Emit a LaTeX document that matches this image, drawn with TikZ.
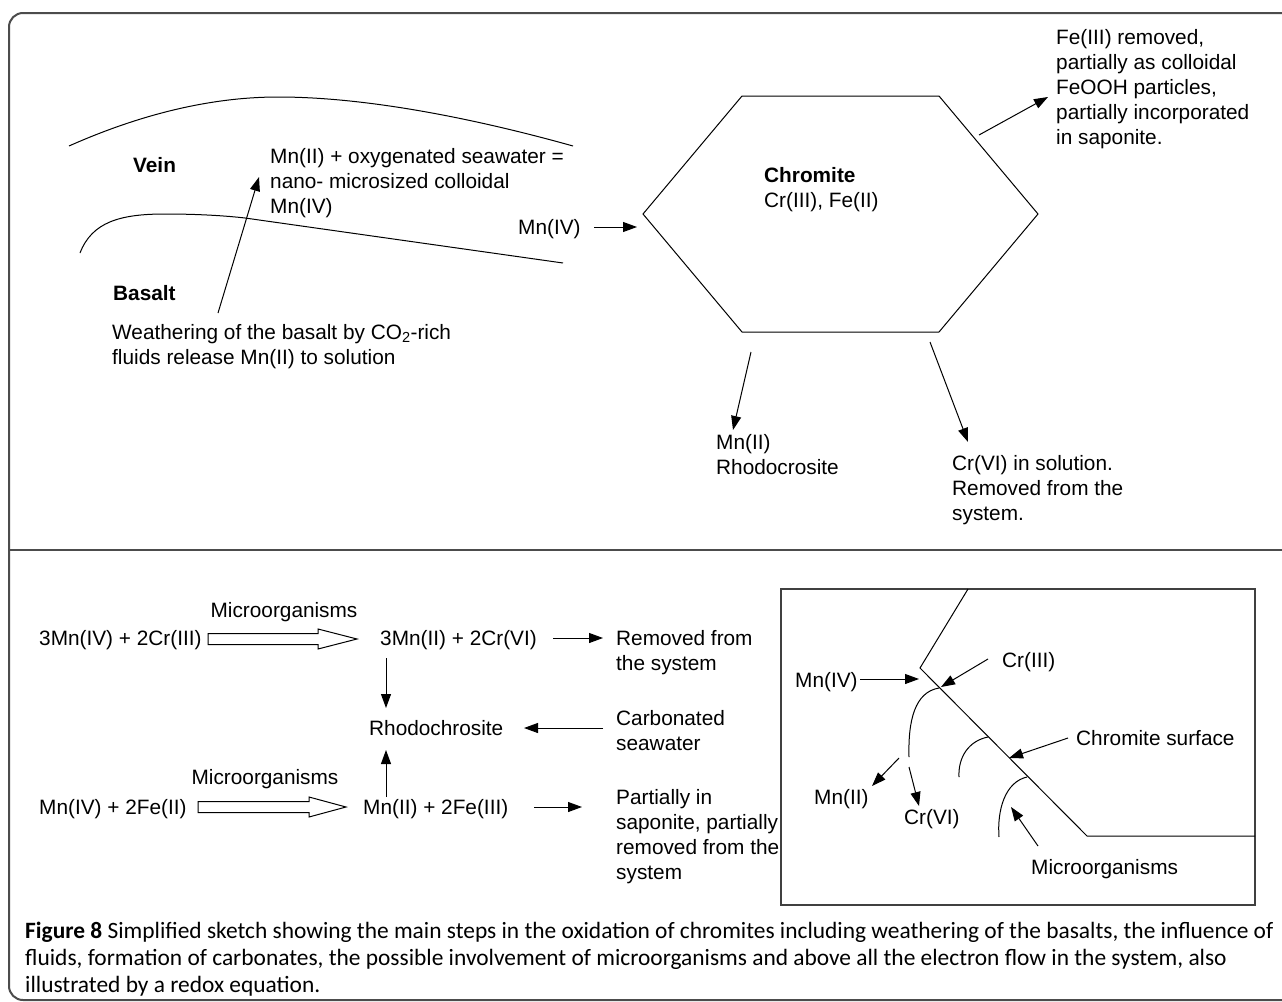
\documentclass[tikz,border=0pt]{standalone}
\usepackage{fontspec}
\setmainfont{Liberation Sans}
\newfontfamily\capfont{Carlito}
\usetikzlibrary{arrows.meta}
\begin{document}
\begin{tikzpicture}[x=1pt,y=-1pt,
  txt/.style={inner sep=0pt, font=\fontsize{20.8}{25}\selectfont, text=black},
  btxt/.style={inner sep=0pt, font=\fontsize{20.8}{25}\selectfont\bfseries, text=black},
  ml/.style={txt, align=left, anchor=north west},
  arr/.style={line width=1pt, -{Triangle[length=14pt,width=10pt]}},
  thinline/.style={line width=1pt},
  framestyle/.style={draw=black!70, line width=2pt},
  hollow/.style={draw=black, fill=white, line width=1pt, line join=miter}
]
\useasboundingbox (0,0) rectangle (1282,1001);
\fill[white] (0,0) rectangle (1282,1001);

% frame and separator
\draw[framestyle, rounded corners=14pt] (1300,13) -- (9,13) -- (9,1000) -- (1300,1000);
\draw[framestyle] (9,549.5) -- (1300,549.5);

% ---------------- top part ----------------
\draw[thinline] (69,146) .. controls (150,110) and (220,97) .. (278,97)
                .. controls (370,97) and (480,120) .. (573,146);
\draw[thinline] (80,253) .. controls (92,222) and (120,214) .. (165,214)
                .. controls (200,214) and (228,216) .. (245,218) -- (563,263);

\node[btxt, anchor=base west] (vein) at (133,172) {Vein};
\node[btxt, anchor=base west] (basalt) at (113,300) {Basalt};
\node[ml] (weath) at (112,324) {Weathering of the basalt by CO\textsubscript{2}-rich\\fluids release Mn(II) to solution};
\node[ml] (mnox) at (270,148) {Mn(II) + oxygenated seawater =\\nano- microsized colloidal\\Mn(IV)};
\node[txt, anchor=base west] (mniv) at (518,234) {Mn(IV)};

\coordinate (hTL) at (742,96);
\coordinate (hTR) at (939,96);
\coordinate (hR) at (1038,214);
\coordinate (hBR) at (939,332);
\coordinate (hBL) at (742,332);
\coordinate (hL) at (643,214);
\draw[thinline, line join=miter] (hTL) -- (hTR) -- (hR) -- (hBR) -- (hBL) -- (hL) -- cycle;

\node[ml] (chrom) at (764,167) {\bfseries Chromite\\Cr(III), Fe(II)};
\node[ml] (fe) at (1056,29) {Fe(III) removed,\\partially as colloidal\\FeOOH particles,\\partially incorporated\\in saponite.};
\node[ml] (rhodo) at (716,434) {Mn(II)\\Rhodocrosite};
\node[ml] (crvi) at (952,455) {Cr(VI) in solution.\\Removed from the\\system.};

\coordinate (wA) at (218,313);  \coordinate (wB) at (259,177);
\coordinate (mA) at (594,227);  \coordinate (mB) at (637,227);
\coordinate (fA) at (979,135);  \coordinate (fB) at (1048,97);
\coordinate (rA) at (751,352);  \coordinate (rB) at (733,430);
\coordinate (cA) at (930,342);  \coordinate (cB) at (968,442);
\draw[arr] (wA) -- (wB);
\draw[arr] (mA) -- (mB);
\draw[arr] (fA) -- (fB);
\draw[arr] (rA) -- (rB);
\draw[arr] (cA) -- (cB);

% ---------------- bottom left ----------------
\node[txt, anchor=base] (micro1) at (284,617) {Microorganisms};
\node[txt, anchor=base west] (eq1) at (39,645) {3Mn(IV) + 2Cr(III)};
\node[txt, anchor=base west] (eq2) at (380,645) {3Mn(II) + 2Cr(VI)};
\node[ml] (rem) at (616,630) {Removed from\\the system};
\node[txt, anchor=base west] (rhodoc) at (369,735) {Rhodochrosite};
\node[ml] (carb) at (616,710) {Carbonated\\seawater};
\node[txt, anchor=base] (micro2) at (265,784) {Microorganisms};
\node[txt, anchor=base west] (eq3) at (39,814) {Mn(IV) + 2Fe(II)};
\node[txt, anchor=base west] (eq4) at (363,814) {Mn(II) + 2Fe(III)};
\node[ml] (part) at (616,789) {Partially in\\saponite, partially\\removed from the\\system};

% hollow arrows
\draw[hollow] (208,633.5) -- (318,633.5) -- (318,629) -- (357,639) -- (318,649) -- (318,644.5) -- (208,644.5) -- cycle;
\draw[hollow] (198,801.5) -- (309,801.5) -- (309,797) -- (346,807) -- (309,817) -- (309,812.5) -- (198,812.5) -- cycle;

\coordinate (e2A) at (553,638); \coordinate (e2B) at (603,638);
\coordinate (dA) at (386,658);  \coordinate (dB) at (386,708);
\coordinate (cbA) at (603,728); \coordinate (cbB) at (524,728);
\coordinate (uA) at (386,797);  \coordinate (uB) at (386,750);
\coordinate (e4A) at (534,807); \coordinate (e4B) at (582,807);
\draw[arr] (e2A) -- (e2B);
\draw[arr] (dA) -- (dB);
\draw[arr] (cbA) -- (cbB);
\draw[arr] (uA) -- (uB);
\draw[arr] (e4A) -- (e4B);

% ---------------- bottom right box ----------------
\draw[line width=1.5pt, draw=black!75] (781,589) rectangle (1255,905);
\coordinate (s1) at (968,589);
\coordinate (s2) at (920,668);
\coordinate (s3) at (1087,836);
\coordinate (s4) at (1255,836);
\draw[thinline] (s1) -- (s2) -- (s3) -- (s4);

\draw[thinline] (939,688) .. controls (915,692) and (908,720) .. (909,757);
\draw[thinline] (988,737) .. controls (968,741) and (958,758) .. (959,777);
\draw[thinline] (1027,777) .. controls (1005,782) and (997,810) .. (999,837);

\node[txt, anchor=base west] (bmniv) at (795,687) {Mn(IV)};
\node[txt, anchor=base west] (bcr3) at (1002,667) {Cr(III)};
\node[txt, anchor=base west] (bmn2) at (814,804) {Mn(II)};
\node[txt, anchor=base west] (bcr6) at (904,824) {Cr(VI)};
\node[txt, anchor=base west] (bsurf) at (1076,745) {Chromite surface};
\node[txt, anchor=base west] (bmicro) at (1031,874) {Microorganisms};

\coordinate (bmA) at (860,679);  \coordinate (bmB) at (919,679);
\coordinate (bcA) at (988,659);  \coordinate (bcB) at (941,687);
\coordinate (b2A) at (899,758);  \coordinate (b2B) at (872,786);
\coordinate (b6A) at (909,767);  \coordinate (b6B) at (919,806);
\coordinate (bsA) at (1068,738); \coordinate (bsB) at (1009,758);
\coordinate (boA) at (1038,846); \coordinate (boB) at (1011,807);
\draw[arr] (bmA) -- (bmB);
\draw[arr] (bcA) -- (bcB);
\draw[arr] (b2A) -- (b2B);
\draw[arr] (b6A) -- (b6B);
\draw[arr] (bsA) -- (bsB);
\draw[arr] (boA) -- (boB);

% ---------------- caption ----------------
\node[anchor=north west, inner sep=0pt, align=left, text=black,
      font=\capfont\fontsize{23.4}{27}\selectfont] (cap) at (25,922)
  {\textbf{Figure 8} Simplified sketch showing the main steps in the oxidation of chromites including weathering of the basalts, the influence of\\
   fluids, formation of carbonates, the possible involvement of microorganisms and above all the electron flow in the system, also\\
   illustrated by a redox equation.};
\end{tikzpicture}
\end{document}
